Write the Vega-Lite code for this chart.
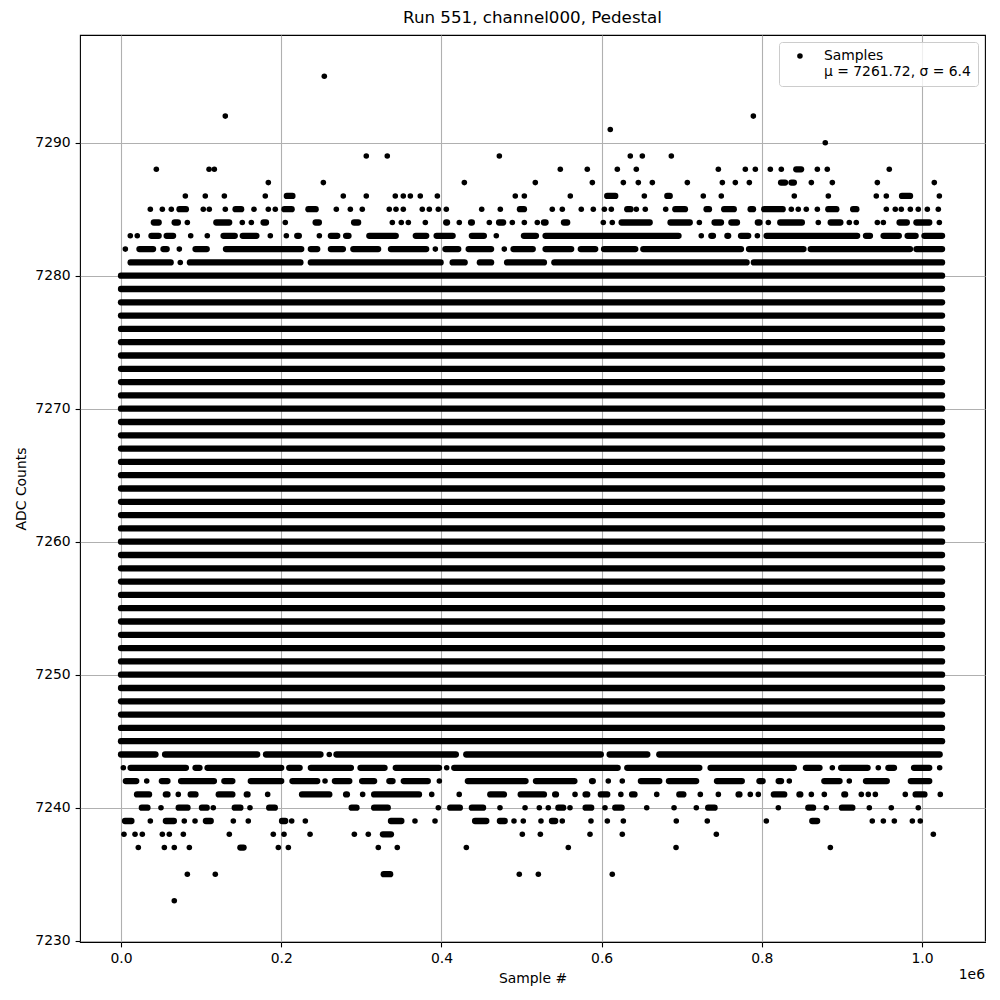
{
"$schema": "https://vega.github.io/schema/vega-lite/v6.json",
"width": 905, "height": 907,
"autosize": {"type": "none"},
"padding": {"left": 80, "top": 35, "right": 15, "bottom": 58},
"background": "white",
"title": {"text": "Run 551, channel000, Pedestal", "fontSize": 16.7, "fontWeight": "normal", "font": "DejaVu Sans", "color": "black", "offset": 8, "anchor": "middle"},
"config": {
  "view": {"stroke": "black", "strokeWidth": 1.1},
  "axis": {"labelFont": "DejaVu Sans", "labelFontSize": 13.9, "labelColor": "black", "titleFont": "DejaVu Sans", "titleFontSize": 13.9, "titleFontWeight": "normal", "titleColor": "black", "tickColor": "black", "tickSize": 4.9, "tickWidth": 1.1, "gridColor": "#b0b0b0", "gridWidth": 1.1, "domain": false, "labelPadding": 4.9},
  "legend": {"orient": "top-right", "offset": 7, "padding": 7, "fillColor": "rgba(255,255,255,0.8)", "strokeColor": "#cccccc", "cornerRadius": 3, "labelFont": "DejaVu Sans", "labelFontSize": 13.9, "labelColor": "black", "symbolSize": 31, "symbolType": "circle", "symbolFillColor": "black", "symbolStrokeWidth": 0, "labelOffset": 17, "symbolOffset": 7}
},
"datasets": {
"runs": [
{"adc":7245,"sample":0,"end":1025000},{"adc":7246,"sample":0,"end":1025000},{"adc":7247,"sample":0,"end":1025000},{"adc":7248,"sample":0,"end":1025000},{"adc":7249,"sample":0,"end":1025000},{"adc":7250,"sample":0,"end":1025000},{"adc":7251,"sample":0,"end":1025000},{"adc":7252,"sample":0,"end":1025000},{"adc":7253,"sample":0,"end":1025000},{"adc":7254,"sample":0,"end":1025000},{"adc":7255,"sample":0,"end":1025000},{"adc":7256,"sample":0,"end":1025000},{"adc":7257,"sample":0,"end":1025000},{"adc":7258,"sample":0,"end":1025000},{"adc":7259,"sample":0,"end":1025000},{"adc":7260,"sample":0,"end":1025000},{"adc":7261,"sample":0,"end":1025000},{"adc":7262,"sample":0,"end":1025000},{"adc":7263,"sample":0,"end":1025000},{"adc":7264,"sample":0,"end":1025000},{"adc":7265,"sample":0,"end":1025000},{"adc":7266,"sample":0,"end":1025000},{"adc":7267,"sample":0,"end":1025000},{"adc":7268,"sample":0,"end":1025000},{"adc":7269,"sample":0,"end":1025000},{"adc":7270,"sample":0,"end":1025000},{"adc":7271,"sample":0,"end":1025000},{"adc":7272,"sample":0,"end":1025000},{"adc":7273,"sample":0,"end":1025000},{"adc":7274,"sample":0,"end":1025000},{"adc":7275,"sample":0,"end":1025000},{"adc":7276,"sample":0,"end":1025000},{"adc":7277,"sample":0,"end":1025000},{"adc":7278,"sample":0,"end":1025000},{"adc":7279,"sample":0,"end":1025000},{"adc":7280,"sample":0,"end":1025000},
{"adc":7281,"sample":12000,"end":62000},{"adc":7281,"sample":86000,"end":224000},{"adc":7281,"sample":237000,"end":399000},{"adc":7281,"sample":414000,"end":429000},{"adc":7281,"sample":448000,"end":462000},{"adc":7281,"sample":482000,"end":528000},{"adc":7281,"sample":541000,"end":781000},{"adc":7281,"sample":790000,"end":1025000},
{"adc":7282,"sample":23000,"end":40000},{"adc":7282,"sample":53000,"end":57000},{"adc":7282,"sample":93000,"end":107000},{"adc":7282,"sample":131000,"end":225000},{"adc":7282,"sample":237000,"end":245000},{"adc":7282,"sample":262000,"end":277000},{"adc":7282,"sample":290000,"end":321000},{"adc":7282,"sample":337000,"end":381000},{"adc":7282,"sample":405000,"end":421000},{"adc":7282,"sample":434000,"end":462000},{"adc":7282,"sample":490000,"end":514000},{"adc":7282,"sample":530000,"end":562000},{"adc":7282,"sample":574000,"end":592000},{"adc":7282,"sample":603000,"end":642000},{"adc":7282,"sample":652000,"end":774000},{"adc":7282,"sample":784000,"end":852000},{"adc":7282,"sample":861000,"end":985000},{"adc":7282,"sample":993000,"end":1025000},
{"adc":7283,"sample":38000,"end":47000},{"adc":7283,"sample":57000,"end":65000},{"adc":7283,"sample":128000,"end":142000},{"adc":7283,"sample":152000,"end":169000},{"adc":7283,"sample":220000,"end":222000},{"adc":7283,"sample":262000,"end":270000},{"adc":7283,"sample":281000,"end":284000},{"adc":7283,"sample":310000,"end":343000},{"adc":7283,"sample":368000,"end":381000},{"adc":7283,"sample":394000,"end":414000},{"adc":7283,"sample":438000,"end":453000},{"adc":7283,"sample":503000,"end":518000},{"adc":7283,"sample":530000,"end":696000},{"adc":7283,"sample":737000,"end":739000},{"adc":7283,"sample":757000,"end":758000},{"adc":7283,"sample":774000,"end":783000},{"adc":7283,"sample":806000,"end":919000},{"adc":7283,"sample":930000,"end":935000},{"adc":7283,"sample":952000,"end":971000},{"adc":7283,"sample":982000,"end":992000},{"adc":7283,"sample":1003000,"end":1025000},
{"adc":7284,"sample":41000,"end":47000},{"adc":7284,"sample":67000,"end":71000},{"adc":7284,"sample":119000,"end":135000},{"adc":7284,"sample":178000,"end":181000},{"adc":7284,"sample":243000,"end":247000},{"adc":7284,"sample":291000,"end":296000},{"adc":7284,"sample":406000,"end":407000},{"adc":7284,"sample":437000,"end":438000},{"adc":7284,"sample":472000,"end":477000},{"adc":7284,"sample":528000,"end":530000},{"adc":7284,"sample":553000,"end":557000},{"adc":7284,"sample":625000,"end":660000},{"adc":7284,"sample":686000,"end":710000},{"adc":7284,"sample":741000,"end":749000},{"adc":7284,"sample":762000,"end":769000},{"adc":7284,"sample":795000,"end":797000},{"adc":7284,"sample":823000,"end":850000},{"adc":7284,"sample":886000,"end":898000},{"adc":7284,"sample":972000,"end":981000},{"adc":7284,"sample":993000,"end":1009000},
{"adc":7285,"sample":73000,"end":81000},{"adc":7285,"sample":143000,"end":150000},{"adc":7285,"sample":204000,"end":213000},{"adc":7285,"sample":234000,"end":243000},{"adc":7285,"sample":498000,"end":503000},{"adc":7285,"sample":632000,"end":636000},{"adc":7285,"sample":692000,"end":704000},{"adc":7285,"sample":731000,"end":734000},{"adc":7285,"sample":753000,"end":765000},{"adc":7285,"sample":786000,"end":789000},{"adc":7285,"sample":803000,"end":826000},{"adc":7285,"sample":883000,"end":893000},{"adc":7285,"sample":914000,"end":918000},
{"adc":7286,"sample":207000,"end":214000},{"adc":7286,"sample":607000,"end":617000},{"adc":7286,"sample":682000,"end":685000},{"adc":7286,"sample":975000,"end":985000},
{"adc":7287,"sample":824000,"end":829000},{"adc":7287,"sample":837000,"end":840000},
{"adc":7288,"sample":843000,"end":849000},
{"adc":7244,"sample":0,"end":43000},{"adc":7244,"sample":55000,"end":170000},{"adc":7244,"sample":181000,"end":249000},{"adc":7244,"sample":269000,"end":418000},{"adc":7244,"sample":431000,"end":599000},{"adc":7244,"sample":610000,"end":657000},{"adc":7244,"sample":672000,"end":1022000},
{"adc":7243,"sample":12000,"end":81000},{"adc":7243,"sample":93000,"end":98000},{"adc":7243,"sample":108000,"end":200000},{"adc":7243,"sample":210000,"end":223000},{"adc":7243,"sample":237000,"end":287000},{"adc":7243,"sample":299000,"end":329000},{"adc":7243,"sample":343000,"end":397000},{"adc":7243,"sample":416000,"end":620000},{"adc":7243,"sample":632000,"end":722000},{"adc":7243,"sample":736000,"end":840000},{"adc":7243,"sample":855000,"end":872000},{"adc":7243,"sample":899000,"end":932000},{"adc":7243,"sample":958000,"end":965000},{"adc":7243,"sample":990000,"end":1009000},
{"adc":7242,"sample":6000,"end":19000},{"adc":7242,"sample":51000,"end":58000},{"adc":7242,"sample":75000,"end":116000},{"adc":7242,"sample":129000,"end":139000},{"adc":7242,"sample":162000,"end":200000},{"adc":7242,"sample":214000,"end":245000},{"adc":7242,"sample":267000,"end":285000},{"adc":7242,"sample":301000,"end":316000},{"adc":7242,"sample":335000,"end":339000},{"adc":7242,"sample":353000,"end":383000},{"adc":7242,"sample":433000,"end":505000},{"adc":7242,"sample":518000,"end":566000},{"adc":7242,"sample":588000,"end":589000},{"adc":7242,"sample":649000,"end":672000},{"adc":7242,"sample":684000,"end":718000},{"adc":7242,"sample":744000,"end":775000},{"adc":7242,"sample":797000,"end":801000},{"adc":7242,"sample":821000,"end":824000},{"adc":7242,"sample":878000,"end":897000},{"adc":7242,"sample":930000,"end":956000},{"adc":7242,"sample":986000,"end":1009000},
{"adc":7241,"sample":20000,"end":35000},{"adc":7241,"sample":56000,"end":58000},{"adc":7241,"sample":87000,"end":93000},{"adc":7241,"sample":122000,"end":139000},{"adc":7241,"sample":157000,"end":158000},{"adc":7241,"sample":226000,"end":260000},{"adc":7241,"sample":281000,"end":282000},{"adc":7241,"sample":316000,"end":372000},{"adc":7241,"sample":461000,"end":478000},{"adc":7241,"sample":499000,"end":528000},{"adc":7241,"sample":542000,"end":543000},{"adc":7241,"sample":580000,"end":582000},{"adc":7241,"sample":599000,"end":607000},{"adc":7241,"sample":638000,"end":641000},{"adc":7241,"sample":697000,"end":702000},{"adc":7241,"sample":771000,"end":772000},{"adc":7241,"sample":815000,"end":828000},{"adc":7241,"sample":847000,"end":848000},{"adc":7241,"sample":903000,"end":904000},{"adc":7241,"sample":992000,"end":1003000},
{"adc":7240,"sample":26000,"end":33000},{"adc":7240,"sample":72000,"end":83000},{"adc":7240,"sample":101000,"end":107000},{"adc":7240,"sample":142000,"end":149000},{"adc":7240,"sample":185000,"end":192000},{"adc":7240,"sample":288000,"end":294000},{"adc":7240,"sample":316000,"end":333000},{"adc":7240,"sample":411000,"end":423000},{"adc":7240,"sample":438000,"end":452000},{"adc":7240,"sample":546000,"end":552000},{"adc":7240,"sample":580000,"end":587000},{"adc":7240,"sample":617000,"end":625000},{"adc":7240,"sample":733000,"end":741000},{"adc":7240,"sample":858000,"end":864000},{"adc":7240,"sample":900000,"end":913000},
{"adc":7239,"sample":5000,"end":13000},{"adc":7239,"sample":56000,"end":66000},{"adc":7239,"sample":106000,"end":112000},{"adc":7239,"sample":201000,"end":205000},{"adc":7239,"sample":337000,"end":350000},{"adc":7239,"sample":442000,"end":456000},{"adc":7239,"sample":473000,"end":479000},{"adc":7239,"sample":538000,"end":542000},{"adc":7239,"sample":863000,"end":869000},
{"adc":7238,"sample":327000,"end":337000},
{"adc":7237,"sample":149000,"end":153000},
{"adc":7235,"sample":328000,"end":336000}
],
"samples": [
{"adc":7295,"sample":253800},
{"adc":7292,"sample":130200},{"adc":7292,"sample":789400},
{"adc":7291,"sample":610800},
{"adc":7290,"sample":879200},
{"adc":7289,"sample":306200},{"adc":7289,"sample":332400},{"adc":7289,"sample":472300},{"adc":7289,"sample":635800},{"adc":7289,"sample":650800},{"adc":7289,"sample":687000},
{"adc":7288,"sample":44100},{"adc":7288,"sample":109900},{"adc":7288,"sample":116500},{"adc":7288,"sample":548400},{"adc":7288,"sample":582100},{"adc":7288,"sample":619600},{"adc":7288,"sample":643300},{"adc":7288,"sample":745700},{"adc":7288,"sample":779400},{"adc":7288,"sample":791900},{"adc":7288,"sample":810600},{"adc":7288,"sample":824300},{"adc":7288,"sample":869300},{"adc":7288,"sample":881700},{"adc":7288,"sample":959100},
{"adc":7287,"sample":183900},{"adc":7287,"sample":252600},{"adc":7287,"sample":428600},{"adc":7287,"sample":517200},{"adc":7287,"sample":588400},{"adc":7287,"sample":627100},{"adc":7287,"sample":645800},{"adc":7287,"sample":663300},{"adc":7287,"sample":707000},{"adc":7287,"sample":750700},{"adc":7287,"sample":766900},{"adc":7287,"sample":784400},{"adc":7287,"sample":861800},{"adc":7287,"sample":888000},{"adc":7287,"sample":944200},{"adc":7287,"sample":1015300},
{"adc":7286,"sample":80300},{"adc":7286,"sample":105200},{"adc":7286,"sample":129000},{"adc":7286,"sample":180100},{"adc":7286,"sample":277500},{"adc":7286,"sample":306200},{"adc":7286,"sample":342400},{"adc":7286,"sample":352400},{"adc":7286,"sample":361200},{"adc":7286,"sample":373600},{"adc":7286,"sample":394900},{"adc":7286,"sample":492200},{"adc":7286,"sample":503500},{"adc":7286,"sample":560900},{"adc":7286,"sample":653300},{"adc":7286,"sample":726900},{"adc":7286,"sample":749400},{"adc":7286,"sample":840500},{"adc":7286,"sample":883000},{"adc":7286,"sample":942900},{"adc":7286,"sample":955400},{"adc":7286,"sample":1021600},
{"adc":7285,"sample":36600},{"adc":7285,"sample":51600},{"adc":7285,"sample":62800},{"adc":7285,"sample":102700},{"adc":7285,"sample":110200},{"adc":7285,"sample":130200},{"adc":7285,"sample":166000},{"adc":7285,"sample":183900},{"adc":7285,"sample":192600},{"adc":7285,"sample":268800},{"adc":7285,"sample":286300},{"adc":7285,"sample":301200},{"adc":7285,"sample":334900},{"adc":7285,"sample":343300},{"adc":7285,"sample":352400},{"adc":7285,"sample":376100},{"adc":7285,"sample":384900},{"adc":7285,"sample":396100},{"adc":7285,"sample":406100},{"adc":7285,"sample":450300},{"adc":7285,"sample":473500},{"adc":7285,"sample":538400},{"adc":7285,"sample":550900},{"adc":7285,"sample":574600},{"adc":7285,"sample":589600},{"adc":7285,"sample":603400},{"adc":7285,"sample":612100},{"adc":7285,"sample":643300},{"adc":7285,"sample":654500},{"adc":7285,"sample":680000},{"adc":7285,"sample":836800},{"adc":7285,"sample":845500},{"adc":7285,"sample":855500},{"adc":7285,"sample":869300},{"adc":7285,"sample":955400},{"adc":7285,"sample":966600},{"adc":7285,"sample":974100},{"adc":7285,"sample":985400},{"adc":7285,"sample":995300},{"adc":7285,"sample":1006600},{"adc":7285,"sample":1020300},
{"adc":7284,"sample":82800},{"adc":7284,"sample":151400},{"adc":7284,"sample":162700},{"adc":7284,"sample":205100},{"adc":7284,"sample":338700},{"adc":7284,"sample":349900},{"adc":7284,"sample":358700},{"adc":7284,"sample":379900},{"adc":7284,"sample":422300},{"adc":7284,"sample":459800},{"adc":7284,"sample":488500},{"adc":7284,"sample":503500},{"adc":7284,"sample":519700},{"adc":7284,"sample":602100},{"adc":7284,"sample":613300},{"adc":7284,"sample":722000},{"adc":7284,"sample":808100},{"adc":7284,"sample":870500},{"adc":7284,"sample":909200},{"adc":7284,"sample":917900},{"adc":7284,"sample":944200},{"adc":7284,"sample":951700},{"adc":7284,"sample":1021600},
{"adc":7283,"sample":11600},{"adc":7283,"sample":20300},{"adc":7283,"sample":87000},{"adc":7283,"sample":107700},{"adc":7283,"sample":186400},{"adc":7283,"sample":206400},{"adc":7283,"sample":247600},{"adc":7283,"sample":468500},{"adc":7283,"sample":724400},{"adc":7283,"sample":794400},
{"adc":7282,"sample":5400},{"adc":7282,"sample":72800},{"adc":7282,"sample":392400},{"adc":7282,"sample":478500},
{"adc":7281,"sample":74000},
{"adc":7244,"sample":260000},
{"adc":7243,"sample":2900},{"adc":7243,"sample":406600},{"adc":7243,"sample":888000},{"adc":7243,"sample":945400},{"adc":7243,"sample":1022000},
{"adc":7242,"sample":32100},{"adc":7242,"sample":254700},{"adc":7242,"sample":397400},{"adc":7242,"sample":608300},{"adc":7242,"sample":625800},{"adc":7242,"sample":834300},{"adc":7242,"sample":909200},
{"adc":7241,"sample":71500},{"adc":7241,"sample":183100},{"adc":7241,"sample":301700},{"adc":7241,"sample":387900},{"adc":7241,"sample":422200},{"adc":7241,"sample":566800},{"adc":7241,"sample":624000},{"adc":7241,"sample":668800},{"adc":7241,"sample":723200},{"adc":7241,"sample":745700},{"adc":7241,"sample":785600},{"adc":7241,"sample":795600},{"adc":7241,"sample":861800},{"adc":7241,"sample":878000},{"adc":7241,"sample":924200},{"adc":7241,"sample":932900},{"adc":7241,"sample":941700},{"adc":7241,"sample":979100},{"adc":7241,"sample":1022800},
{"adc":7240,"sample":49900},{"adc":7240,"sample":115200},{"adc":7240,"sample":161000},{"adc":7240,"sample":396100},{"adc":7240,"sample":473100},{"adc":7240,"sample":504400},{"adc":7240,"sample":522200},{"adc":7240,"sample":533400},{"adc":7240,"sample":560500},{"adc":7240,"sample":604200},{"adc":7240,"sample":656300},{"adc":7240,"sample":690400},{"adc":7240,"sample":718200},{"adc":7240,"sample":820600},{"adc":7240,"sample":880500},{"adc":7240,"sample":934200},{"adc":7240,"sample":961600},{"adc":7240,"sample":995300},
{"adc":7239,"sample":36600},{"adc":7239,"sample":79000},{"adc":7239,"sample":92400},{"adc":7239,"sample":140200},{"adc":7239,"sample":158900},{"adc":7239,"sample":213100},{"adc":7239,"sample":230100},{"adc":7239,"sample":367000},{"adc":7239,"sample":392000},{"adc":7239,"sample":490600},{"adc":7239,"sample":502200},{"adc":7239,"sample":524300},{"adc":7239,"sample":550900},{"adc":7239,"sample":586700},{"adc":7239,"sample":607100},{"adc":7239,"sample":627100},{"adc":7239,"sample":693200},{"adc":7239,"sample":731900},{"adc":7239,"sample":805600},{"adc":7239,"sample":937900},{"adc":7239,"sample":951700},{"adc":7239,"sample":965400},{"adc":7239,"sample":987900},{"adc":7239,"sample":997800},
{"adc":7238,"sample":3700},{"adc":7238,"sample":17500},{"adc":7238,"sample":26600},{"adc":7238,"sample":51600},{"adc":7238,"sample":60300},{"adc":7238,"sample":77800},{"adc":7238,"sample":135200},{"adc":7238,"sample":190100},{"adc":7238,"sample":203500},{"adc":7238,"sample":236000},{"adc":7238,"sample":291300},{"adc":7238,"sample":308700},{"adc":7238,"sample":501000},{"adc":7238,"sample":523500},{"adc":7238,"sample":585500},{"adc":7238,"sample":625800},{"adc":7238,"sample":743200},{"adc":7238,"sample":1014100},
{"adc":7237,"sample":21600},{"adc":7237,"sample":54100},{"adc":7237,"sample":66500},{"adc":7237,"sample":85300},{"adc":7237,"sample":196400},{"adc":7237,"sample":208900},{"adc":7237,"sample":321200},{"adc":7237,"sample":344900},{"adc":7237,"sample":431100},{"adc":7237,"sample":558400},{"adc":7237,"sample":692900},{"adc":7237,"sample":885500},
{"adc":7235,"sample":82800},{"adc":7235,"sample":117700},{"adc":7235,"sample":497200},{"adc":7235,"sample":521000},{"adc":7235,"sample":613300},
{"adc":7233,"sample":66500}
],
"offset": [{"label": "1e6", "sample": 1078600, "adc": 7229.9}]
},
"encoding": {
  "x": {"field": "sample", "type": "quantitative", "scale": {"domain": [-51200, 1078600], "nice": false, "zero": false},
        "axis": {"title": "Sample #", "values": [0, 200000, 400000, 600000, 800000, 1000000], "labelExpr": "format(datum.value / 1000000, '.1f')", "titlePadding": 6, "grid": true}},
  "y": {"field": "adc", "type": "quantitative", "scale": {"domain": [7229.9, 7298.1], "nice": false, "zero": false},
        "axis": {"title": "ADC Counts", "values": [7230, 7240, 7250, 7260, 7270, 7280, 7290], "format": "d", "titlePadding": 6, "grid": true}}
},
"layer": [
  {"data": {"name": "runs"},
   "mark": {"type": "rule", "strokeWidth": 6.3, "strokeCap": "round", "color": "black"},
   "encoding": {"x2": {"field": "end"}}},
  {"data": {"name": "samples"},
   "mark": {"type": "point", "filled": true, "size": 31, "opacity": 1, "shape": "circle"},
   "encoding": {"color": {"datum": "Samples", "type": "nominal", "scale": {"range": ["black"]},
     "legend": {"title": null, "labelExpr": "['Samples', 'μ = 7261.72, σ = 6.4']"}}}},
  {"data": {"name": "offset"},
   "mark": {"type": "text", "align": "right", "baseline": "top", "dy": 26, "clip": false, "font": "DejaVu Sans", "fontSize": 13.9, "fill": "black"},
   "encoding": {"text": {"field": "label", "type": "nominal"}}}
]
}
